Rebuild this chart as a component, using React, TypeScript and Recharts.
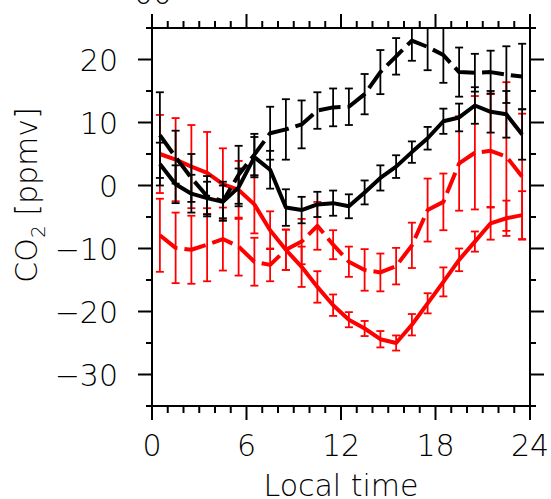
import React from 'react';
import { ComposedChart, Line, XAxis, YAxis, ErrorBar } from 'recharts';

const hours = [0.5, 1.5, 2.5, 3.5, 4.5, 5.5, 6.5, 7.5, 8.5, 9.5, 10.5, 11.5, 12.5, 13.5, 14.5, 15.5, 16.5, 17.5, 18.5, 19.5, 20.5, 21.5, 22.5, 23.5];

const blackDashed = [8.0, 4.5, 1.2, -1.7, -2.5, 1.7, 4.9, 8.3, 8.9, 9.7, 11.9, 12.4, 12.5, 14.5, 18.0, 20.5, 23.0, 22.0, 20.7, 18.0, 17.9, 18.0, 17.6, 17.3];
const blackDashedErrLow = [6.8, 4.2, 3.8, 3.2, 3.1, 4.6, 3.3, 4.2, 4.8, 3.8, 2.9, 3.0, 2.9, 3.2, 3.5, 2.9, 3.2, 3.7, 4.4, 3.9, 3.0, 3.4, 4.5, 5.2];
const blackDashedErrHigh = [6.8, 4.2, 3.8, 3.2, 3.1, 4.6, 3.3, 4.2, 4.8, 3.8, 2.9, 3.0, 2.9, 3.2, 3.5, 2.9, 2.0, 3.0, 4.3, 3.9, 3.0, 3.4, 4.5, 5.2];

const blackSolid = [3.4, 0.2, -1.3, -2.0, -2.6, -0.3, 4.5, 2.5, -3.5, -3.9, -3.0, -2.8, -3.3, -1.1, 1.2, 3.0, 5.3, 7.5, 10.2, 10.8, 12.7, 11.7, 11.3, 8.1];
const blackSolidErr = [3.4, 3.0, 3.0, 2.6, 2.6, 3.0, 3.2, 3.0, 2.9, 2.1, 2.0, 2.0, 1.9, 1.9, 2.0, 1.8, 1.7, 1.8, 2.0, 2.2, 2.9, 3.3, 3.7, 4.0];

const redSolid = [5.0, 4.1, 3.0, 2.0, 0.2, -0.7, -3.0, -7.1, -10.2, -12.9, -16.1, -19.0, -21.3, -22.7, -24.4, -25.0, -22.1, -18.7, -15.3, -11.8, -8.9, -6.0, -5.2, -4.7];
const redSolidErr = [6.2, 6.6, 6.6, 6.5, 5.7, 4.6, 4.6, 3.0, 3.2, 3.2, 2.5, 1.7, 1.2, 1.2, 1.3, 1.2, 1.7, 1.6, 2.3, 1.8, 1.6, 2.6, 2.8, 3.8];

const redDashed = [-7.9, -9.9, -10.2, -9.4, -8.5, -9.7, -12.1, -12.6, -10.2, -8.9, -6.4, -9.4, -12.1, -13.4, -13.8, -12.8, -9.5, -3.9, -2.6, 3.5, 5.2, 5.5, 4.6, 1.4];
const redDashedErr = [5.8, 5.6, 5.4, 5.8, 5.0, 4.6, 3.8, 2.6, 3.2, 3.6, 3.8, 2.3, 2.4, 3.3, 3.0, 2.9, 3.6, 5.0, 4.5, 7.5, 9.0, 9.0, 11.8, 10.0];

const xMinorTicks = [0, 1, 2, 3, 4, 5, 6, 7, 8, 9, 10, 11, 12, 13, 14, 15, 16, 17, 18, 19, 20, 21, 22, 23, 24];
const xMajorTicks = [0, 6, 12, 18, 24];
const yMinorTicks = [-35, -30, -25, -20, -15, -10, -5, 0, 5, 10, 15, 20, 25];
const yMajorTicks = [-30, -20, -10, 0, 10, 20];

const xLabel = 'Local time';
const yLabelMain = 'CO';
const yLabelSub = '2';
const yLabelRest = ' [ppmv]';
const topFragment = '00';

const data = hours.map((t, i) => ({
  t,
  bd: blackDashed[i],
  bdErr: [blackDashedErrLow[i], blackDashedErrHigh[i]],
  bs: blackSolid[i],
  bsErr: blackSolidErr[i],
  rs: redSolid[i],
  rsErr: redSolidErr[i],
  rd: redDashed[i],
  rdErr: redDashedErr[i],
}));

const FONT = '"DejaVu Sans", sans-serif';
const FW = 200;
const FS = 30;
const TW = 2;

const fmt = (v: number) => (v < 0 ? '\u2212' + Math.abs(v) : String(v));

function BottomTick(props: any) {
  const { x, y, payload } = props;
  const v = payload.value;
  const major = xMajorTicks.includes(v);
  return (
    <g>
      <line x1={x} y1={y} x2={x} y2={y + (major ? 14 : 7)} stroke="#000" strokeWidth={TW} />
      {major && (
        <text x={x} y={y + 50} textAnchor="middle" fontFamily={FONT} fontWeight={FW} fontSize={FS} fill="#000">
          {fmt(v)}
        </text>
      )}
    </g>
  );
}

function TopTick(props: any) {
  const { x, y, payload } = props;
  const v = payload.value;
  const major = xMajorTicks.includes(v);
  return <line x1={x} y1={y} x2={x} y2={y - (major ? 14 : 7)} stroke="#000" strokeWidth={TW} />;
}

function LeftTick(props: any) {
  const { x, y, payload } = props;
  const v = payload.value;
  const major = yMajorTicks.includes(v);
  return (
    <g>
      <line x1={x} y1={y} x2={x - (major ? 14 : 6)} y2={y} stroke="#000" strokeWidth={TW} />
      {major && (
        <text x={x - 34} y={y + 11} textAnchor="end" fontFamily={FONT} fontWeight={FW} fontSize={FS} fill="#000">
          {fmt(v)}
        </text>
      )}
    </g>
  );
}

function RightTick(props: any) {
  const { x, y, payload } = props;
  const v = payload.value;
  const major = yMajorTicks.includes(v);
  return <line x1={x} y1={y} x2={x + (major ? 14 : 6)} y2={y} stroke="#000" strokeWidth={TW} />;
}

const axisLine = { stroke: '#000', strokeWidth: TW };
const LW = 4;

export default function App() {
  return (
    <div style={{ position: 'absolute', left: 0, top: 0, width: 551, height: 499, background: '#fff' }}>
      <ComposedChart width={551} height={499} data={data} margin={{ top: 27, right: 20, bottom: 0, left: 0 }}>
        <XAxis
          xAxisId="bottom"
          dataKey="t"
          type="number"
          domain={[0, 24]}
          ticks={xMinorTicks}
          interval={0}
          allowDataOverflow
          height={93}
          tickSize={0}
          tickMargin={0}
          tickLine={false}
          axisLine={axisLine}
          tick={<BottomTick />}
        />
        <XAxis
          xAxisId="top"
          orientation="top"
          dataKey="t"
          type="number"
          domain={[0, 24]}
          ticks={xMinorTicks}
          interval={0}
          allowDataOverflow
          height={1}
          tickSize={0}
          tickMargin={0}
          tickLine={false}
          axisLine={axisLine}
          tick={<TopTick />}
        />
        <YAxis
          yAxisId="left"
          type="number"
          domain={[-35, 25]}
          ticks={yMinorTicks}
          interval={0}
          allowDataOverflow
          width={152}
          tickSize={0}
          tickMargin={0}
          tickLine={false}
          axisLine={axisLine}
          tick={<LeftTick />}
        />
        <YAxis
          yAxisId="right"
          orientation="right"
          type="number"
          domain={[-35, 25]}
          ticks={yMinorTicks}
          interval={0}
          allowDataOverflow
          width={1}
          tickSize={0}
          tickMargin={0}
          tickLine={false}
          axisLine={axisLine}
          tick={<RightTick />}
        />
        <Line xAxisId="bottom" yAxisId="left" dataKey="rd" stroke="#ff0000" strokeWidth={LW} strokeDasharray="22 7" strokeLinejoin="round" dot={false} isAnimationActive={false}>
          <ErrorBar dataKey="rdErr" width={4} stroke="#ff0000" strokeWidth={1.8} direction="y" isAnimationActive={false} />
        </Line>
        <Line xAxisId="bottom" yAxisId="left" dataKey="rs" stroke="#ff0000" strokeWidth={LW} strokeLinejoin="round" dot={false} isAnimationActive={false}>
          <ErrorBar dataKey="rsErr" width={4} stroke="#ff0000" strokeWidth={1.8} direction="y" isAnimationActive={false} />
        </Line>
        <Line xAxisId="bottom" yAxisId="left" dataKey="bs" stroke="#000" strokeWidth={LW} strokeLinejoin="round" dot={false} isAnimationActive={false}>
          <ErrorBar dataKey="bsErr" width={4} stroke="#000" strokeWidth={1.8} direction="y" isAnimationActive={false} />
        </Line>
        <Line xAxisId="bottom" yAxisId="left" dataKey="bd" stroke="#000" strokeWidth={LW} strokeDasharray="22 7" strokeLinejoin="round" dot={false} isAnimationActive={false}>
          <ErrorBar dataKey="bdErr" width={4} stroke="#000" strokeWidth={1.8} direction="y" isAnimationActive={false} />
        </Line>
      </ComposedChart>
      <svg width={551} height={499} style={{ position: 'absolute', left: 0, top: 0, pointerEvents: 'none' }}>
        <text x={134} y={4} fontFamily={FONT} fontWeight={FW} fontSize={FS} fill="#000">{topFragment}</text>
        <text x={341} y={496} textAnchor="middle" fontFamily={FONT} fontWeight={FW} fontSize={FS} fill="#000">{xLabel}</text>
        <text transform="translate(37,195) rotate(-90)" textAnchor="middle" fontFamily={FONT} fontWeight={FW} fontSize={FS} fill="#000">
          {yLabelMain}
          <tspan fontSize={20} dy={8}>{yLabelSub}</tspan>
          <tspan dy={-8}>{yLabelRest}</tspan>
        </text>
      </svg>
    </div>
  );
}
